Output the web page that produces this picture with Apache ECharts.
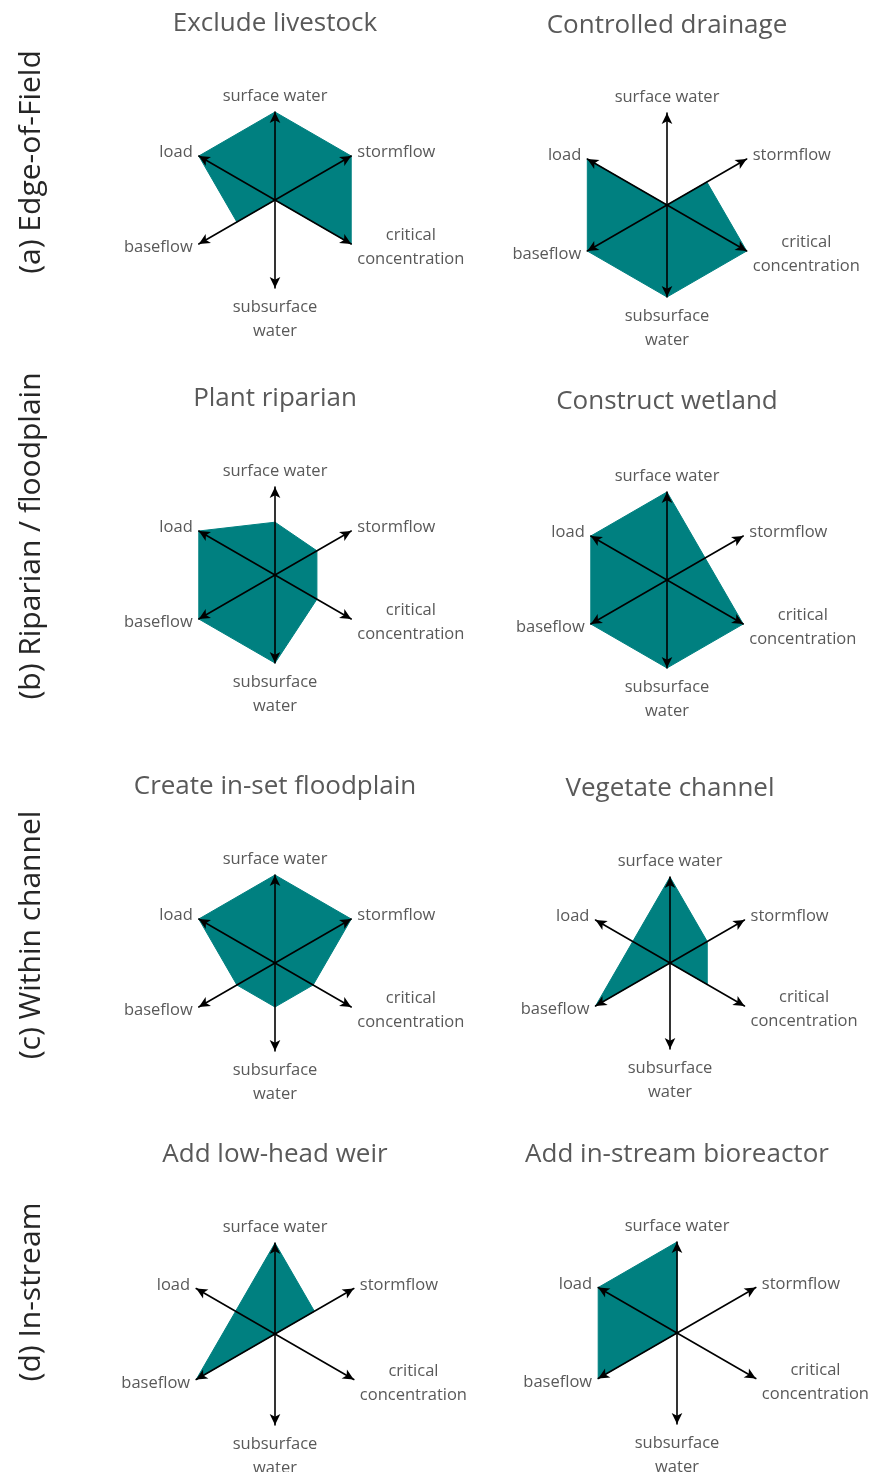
<!DOCTYPE html>
<html>
<head>
<meta charset="utf-8">
<style>
  html, body { margin: 0; padding: 0; background: #fff; }
  #main { width: 871px; height: 1472px; }
</style>
<script src="https://cdn.jsdelivr.net/npm/echarts@6/dist/echarts.min.js"></script>
</head>
<body>
<div id="main"></div>
<script>
// axes, counter-clockwise starting at the top
const indicators = ['surface water', 'load', 'baseflow', 'subsurface\nwater', 'critical\nconcentration', 'stormflow']

const titles = ['Exclude livestock', 'Controlled drainage', 'Plant riparian', 'Construct wetland',
  'Create in-set floodplain', 'Vegetate channel', 'Add low-head weir', 'Add in-stream bioreactor']
const rowLabels = ['(a) Edge-of-Field', '(b) Riparian / floodplain', '(c) Within channel', '(d) In-stream']

// values in the same order as indicators
const excludeLivestock = [1, 1, 0.5, 0, 1, 1]
const controlledDrainage = [0, 1, 1, 1, 1, 0.5]
const plantRiparian = [0.6, 1, 1, 1, 0.55, 0.55]
const constructWetland = [1, 1, 1, 1, 1, 0.5]
const createFloodplain = [1, 1, 0.5, 0.5, 0.5, 1]
const vegetateChannel = [1, 0.5, 1, 0, 0.5, 0.5]
const lowHeadWeir = [1, 0.5, 1, 0, 0, 0.5]
const bioreactor = [1, 1, 1, 0, 0, 0]

const allValues = [excludeLivestock, controlledDrainage, plantRiparian, constructWetland,
  createFloodplain, vegetateChannel, lowHeadWeir, bioreactor]

// where each little radar goes: center x, center y, radius, title y
const layout = [
  [275, 200, 88, 24], [667, 205, 92, 26],
  [275, 575, 88, 399], [667, 580, 88, 402],
  [275, 963, 88, 787], [670, 963, 86, 789],
  [275, 1334, 91, 1155], [677, 1333, 91, 1155]
]
const rowLabelY = [162, 536, 935, 1292]

const grey = '#595959'
const teal = '#008080'
const font = 'Open Sans'

const myChart = echarts.init(document.getElementById('main'))

const radars = layout.map(l => ({
  center: [l[0], l[1]],
  radius: l[2],
  startAngle: 90,
  shape: 'polygon',
  splitNumber: 1,
  z: 5,
  indicator: indicators.map(n => ({ name: n, min: 0, max: 1 })),
  nameGap: 7,
  axisName: {
    color: grey,
    fontFamily: font,
    fontSize: 16.5,
    // two line names: centre each line inside the block
    formatter: function (name) {
      if (name.indexOf('\n') < 0) return name
      return name.split('\n').map(s => '{c|' + s + '}').join('\n')
    },
    rich: {
      c: { align: 'center', color: grey, fontFamily: font, fontSize: 16.5, lineHeight: 24 }
    }
  },
  axisLine: {
    show: true,
    symbol: ['none', 'arrow'],
    symbolSize: [8, 11],
    lineStyle: { color: '#000', width: 1.6 }
  },
  axisTick: { show: false },
  axisLabel: { show: false },
  splitLine: { show: false },
  splitArea: { show: false }
}))

const series = allValues.map((v, i) => ({
  type: 'radar',
  radarIndex: i,
  z: 2,
  symbol: 'none',
  silent: true,
  lineStyle: { color: teal, width: 1 },
  areaStyle: { color: teal, opacity: 1 },
  data: [{ value: v, name: titles[i] }]
}))

const graphics = []
//小标题
titles.forEach((t, i) => {
  graphics.push({
    type: 'text',
    x: layout[i][0],
    y: layout[i][3],
    style: {
      text: t, fill: grey, fontFamily: font, fontSize: 26,
      align: 'center', verticalAlign: 'middle', textAlign: 'center', textVerticalAlign: 'middle'
    }
  })
})
// 左边竖排的分组名
rowLabels.forEach((t, i) => {
  graphics.push({
    type: 'text',
    x: 31,
    y: rowLabelY[i],
    rotation: Math.PI / 2,
    style: {
      text: t, fill: '#262626', fontFamily: font, fontSize: 30,
      align: 'center', verticalAlign: 'middle', textAlign: 'center', textVerticalAlign: 'middle'
    }
  })
})

myChart.setOption({
  backgroundColor: '#fff',
  animation: false,
  radar: radars,
  series: series,
  graphic: graphics
})
</script>
</body>
</html>
